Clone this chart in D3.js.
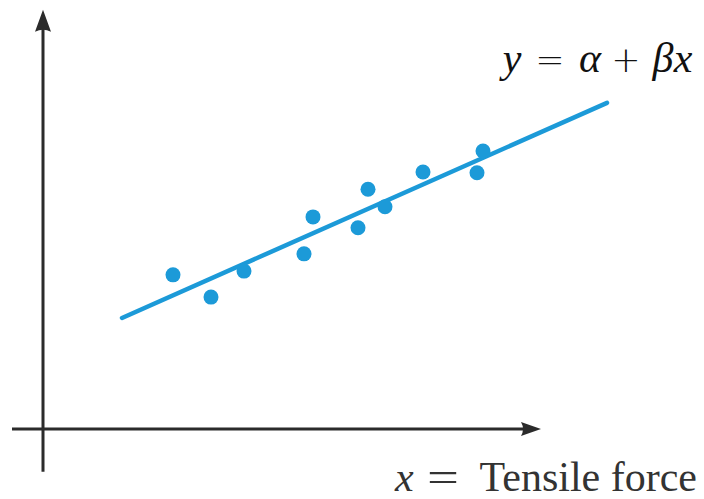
<!DOCTYPE html>
<html>
<head>
<meta charset="utf-8">
<script src="https://cdn.jsdelivr.net/npm/d3@7"></script>
<style>
  html, body { margin: 0; padding: 0; background: #fff; }
  svg { display: block; }
</style>
</head>
<body>
<svg id="chart" width="704" height="499"></svg>
<script>
// Observations: x (tensile force) and y, in plot units
const obsX = [26.0, 33.6, 40.2, 52.2, 54.0, 63.0, 65.0, 68.4, 76.0, 86.8, 88.0];
const obsY = [36.7, 31.4, 37.6, 41.7, 50.5, 47.9, 57.1, 52.9, 61.2, 61.0, 66.2];

// Fitted line y = alpha + beta * x over its drawn extent
const alpha = 18.1;
const beta = 0.528;
const fitX = [15.8, 112.8];

// Axis extents (arrows point to the positive ends)
const xAxisExtent = [-6.2, 99.6];
const yAxisExtent = [-10.2, 99.8];

// Equation glyphs: text, kind (variable or operator)
const equationGlyphs = [["y", "var"], ["=", "op"], ["α", "var"], ["+", "op"], ["β", "var"], ["x", "var"]];
const xAxisLabel = ["x", "=", "Tensile force"];

const svg = d3.select("#chart");

const x = d3.scaleLinear().domain([0, 100]).range([43, 543]);
const y = d3.scaleLinear().domain([0, 100]).range([429, 9]);

const axisColor = "#2b2b2b";
const blue = "#1c9ad8";

// axes
svg.append("line")
  .attr("x1", x(0)).attr("x2", x(0))
  .attr("y1", y(yAxisExtent[0])).attr("y2", y(yAxisExtent[1]) + 12)
  .attr("stroke", axisColor).attr("stroke-width", 3);
svg.append("line")
  .attr("x1", x(xAxisExtent[0])).attr("x2", x(xAxisExtent[1]) - 12)
  .attr("y1", y(0)).attr("y2", y(0))
  .attr("stroke", axisColor).attr("stroke-width", 3);

// arrowheads
const yt = [x(0), y(yAxisExtent[1])];
svg.append("path")
  .attr("d", `M${yt[0]},${yt[1]} L${yt[0] + 8},${yt[1] + 22} Q${yt[0]},${yt[1] + 18} ${yt[0] - 8},${yt[1] + 22} Z`)
  .attr("fill", axisColor);
const xt = [x(xAxisExtent[1]), y(0)];
svg.append("path")
  .attr("d", `M${xt[0]},${xt[1]} L${xt[0] - 20},${xt[1] - 7} Q${xt[0] - 16},${xt[1]} ${xt[0] - 20},${xt[1] + 7} Z`)
  .attr("fill", axisColor);

// fitted line
svg.append("line")
  .attr("x1", x(fitX[0])).attr("y1", y(alpha + beta * fitX[0]))
  .attr("x2", x(fitX[1])).attr("y2", y(alpha + beta * fitX[1]))
  .attr("stroke", blue).attr("stroke-width", 4.5).attr("stroke-linecap", "round");

// observations
svg.append("g").selectAll("circle")
  .data(d3.zip(obsX, obsY))
  .join("circle")
  .attr("cx", d => x(d[0]))
  .attr("cy", d => y(d[1]))
  .attr("r", 7.5)
  .attr("fill", blue);

// equation, glyph by glyph with math spacing
const eqCenters = [512, 550, 590, 626, 663, 683];
svg.append("g")
  .attr("fill", "#111")
  .selectAll("text")
  .data(equationGlyphs)
  .join("text")
  .attr("x", (d, i) => eqCenters[i])
  .attr("y", 72)
  .attr("text-anchor", "middle")
  .attr("font-family", d => d[1] === "op" ? "'DejaVu Sans', sans-serif" : "'Liberation Serif', serif")
  .attr("font-size", d => d[1] === "op" ? 35 : 42)
  .attr("font-weight", d => d[1] === "op" ? 300 : 400)
  .attr("font-style", d => d[1] === "op" ? "normal" : "italic")
  .text(d => d[0]);

// x-axis label
const lab = svg.append("g")
  .attr("fill", "#333")
  .attr("font-family", "'Liberation Serif', serif")
  .attr("font-size", 42);
lab.append("text").attr("x", 395).attr("y", 491)
  .attr("font-style", "italic").text(xAxisLabel[0]);
lab.append("text")
  .attr("transform", "translate(443,491) scale(1.35,1)")
  .attr("text-anchor", "middle").text(xAxisLabel[1]);
lab.append("text").attr("x", 697).attr("y", 491)
  .attr("text-anchor", "end").text(xAxisLabel[2]);
</script>
</body>
</html>
